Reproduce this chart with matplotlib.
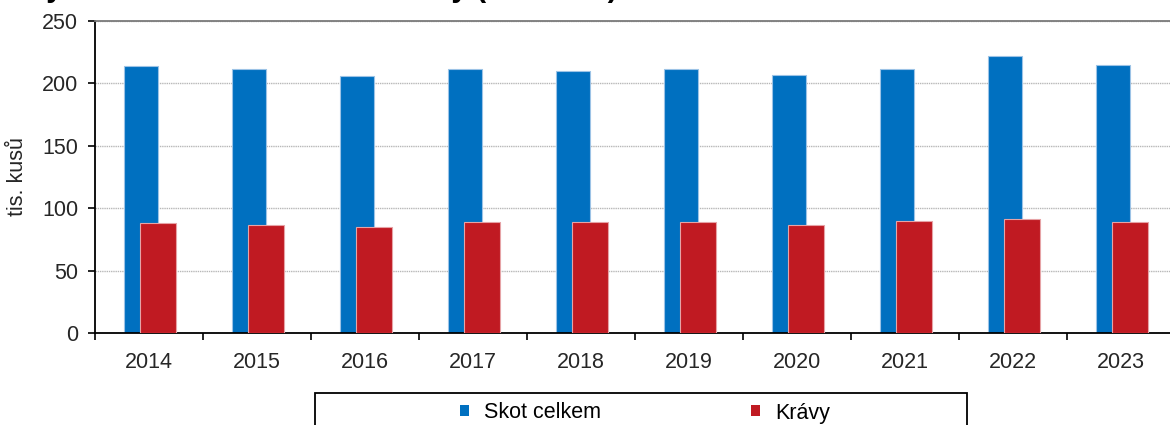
import numpy as np
import matplotlib
matplotlib.use("Agg")
import matplotlib.pyplot as plt
from matplotlib.patches import Rectangle, Patch

plt.rcParams['font.family'] = ['Liberation Sans', 'DejaVu Sans']

# data (tis. kusu)
years = ['2014', '2015', '2016', '2017', '2018', '2019', '2020', '2021', '2022', '2023']
skot_celkem = [213.6, 211.7, 205.6, 211.7, 210.2, 211.7, 207.0, 211.7, 221.6, 214.9]
kravy = [88.4, 86.8, 85.2, 88.7, 88.7, 88.7, 86.9, 90.0, 91.6, 88.7]
series_names = ['Skot celkem', 'Krávy']
title_text = 'Stavy skotu celkem a z toho krávy (tis. kusů)'

blue = '#0070C0'
red = '#C01A22'
W, H = 1170, 425

fig = plt.figure(figsize=(W / 100, H / 100), dpi=100)
ax = fig.add_axes([95 / W, 1 - 333 / H, 1080 / W, 312 / H])

x = np.arange(len(years))
ax.bar(x - 0.075, skot_celkem, width=0.315, color=blue, edgecolor='#9cc3e6', linewidth=0.8, zorder=2)
ax.bar(x + 0.085, kravy, width=0.335, color=red, edgecolor='#e6a3a6', linewidth=0.8, zorder=3)

ax.set_xlim(-0.5, len(years) - 0.5)
ax.set_ylim(0, 250)
ax.set_yticks([0, 50, 100, 150, 200, 250])
ax.set_xticks(x)
ax.set_xticklabels(years)
ax.set_xticks(np.arange(-0.5, len(years), 1.0), minor=True)

ax.yaxis.grid(True, color='#b8b8b8', linewidth=1.0, linestyle=(0, (1, 0.6)), zorder=0)
ax.set_axisbelow(True)

for s in ['left', 'bottom']:
    ax.spines[s].set_color('black')
    ax.spines[s].set_linewidth(1.3)
ax.spines['top'].set_color('#7a7a7a')
ax.spines['top'].set_linewidth(1.3)
ax.spines['right'].set_visible(False)

ax.tick_params(axis='y', direction='out', length=5, width=1.2, pad=7, labelsize=15.5, labelcolor='#262626')
ax.tick_params(axis='x', which='major', length=0, pad=14, labelsize=15.5, labelcolor='#262626')
ax.tick_params(axis='x', which='minor', direction='out', length=5, width=1.2)

ax.set_ylabel('tis. kusů', fontsize=15.5, color='#262626', labelpad=10)

# title, only partly visible at the top edge
fig.text(-17 / W, 1 + 3 / H, title_text, fontsize=21.5, fontweight='bold', va='baseline', ha='left')

# legend box running off the bottom
fig.add_artist(Rectangle((315 / W, -0.1), (967 - 315) / W, (H - 393) / H + 0.1,
                         transform=fig.transFigure, fill=False, edgecolor='black', linewidth=1.3))
handles = [Patch(facecolor=blue, edgecolor='none'), Patch(facecolor=red, edgecolor='none')]
fig.legend(handles, series_names, loc='center left', bbox_to_anchor=(460 / W, 1 - 413 / H),
           ncol=2, frameon=False, fontsize=15.5, borderpad=0, borderaxespad=0,
           handlelength=0.4, handleheight=0.4, handletextpad=0.7, columnspacing=7.0)

fig.savefig('out.png', dpi=100)
